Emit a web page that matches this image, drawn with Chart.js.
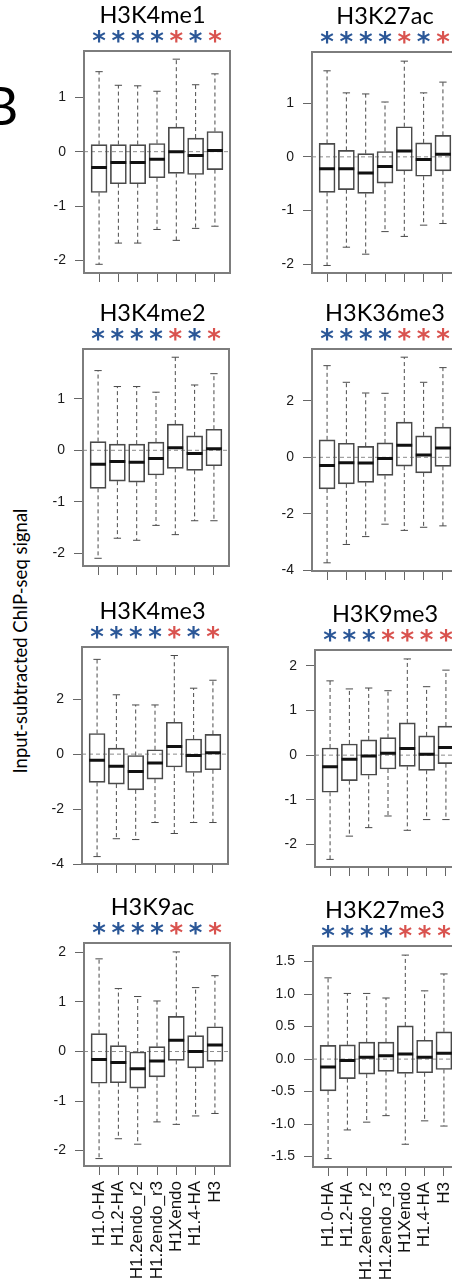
<!DOCTYPE html>
<html>
<head>
<meta charset="utf-8">
<title>Input-subtracted ChIP-seq signal</title>
<script src="https://cdn.jsdelivr.net/npm/chart.js@4.4.1/dist/chart.umd.min.js"></script>
<style>
    html, body { margin: 0; padding: 0; background: #fff; }
    body { position: relative; width: 452px; height: 1286px; overflow: hidden; }
    #panelLetter { position: absolute; left: -16px; top: 78px; font: 53px Lato; line-height: 53px; color: #000; }
    #yLabel {
        position: absolute; left: 20px; top: 641px;
        transform: translate(-50%, -50%) rotate(-90deg);
        font: 18.5px Lato; white-space: nowrap; color: #000;
    }
</style>
</head>
<body>
<div id="panelLetter">B</div>
<div id="yLabel">Input-subtracted ChIP-seq signal</div>

<script>
// ==============================================================================
// 1. DATA (one row per histone mark, one value per H1 variant)
// ==============================================================================
const groups = ['H1.0-HA', 'H1.2-HA', 'H1.2endo_r2', 'H1.2endo_r3', 'H1Xendo', 'H1.4-HA', 'H3'];
const marks = ['H3K4me1', 'H3K27ac', 'H3K4me2', 'H3K36me3', 'H3K4me3', 'H3K9me3', 'H3K9ac', 'H3K27me3'];

const whiskerLow = [
    [-2.07, -1.68, -1.68, -1.43, -1.63, -1.41, -1.37],
    [-2.02, -1.68, -1.81, -1.39, -1.48, -1.27, -1.24],
    [-2.10, -1.71, -1.75, -1.46, -1.64, -1.37, -1.37],
    [-3.74, -3.09, -2.81, -2.37, -2.59, -2.48, -2.43],
    [-3.73, -3.08, -3.11, -2.49, -2.89, -2.49, -2.49],
    [-2.33, -1.81, -1.62, -1.36, -1.68, -1.44, -1.44],
    [-2.16, -1.76, -1.87, -1.42, -1.47, -1.30, -1.25],
    [-1.53, -1.09, -0.97, -0.87, -1.31, -0.95, -1.03]
];
const lowerQuartile = [
    [-0.75, -0.59, -0.59, -0.48, -0.40, -0.42, -0.33],
    [-0.66, -0.61, -0.68, -0.49, -0.26, -0.36, -0.26],
    [-0.74, -0.60, -0.62, -0.48, -0.35, -0.39, -0.30],
    [-1.12, -0.94, -0.89, -0.64, -0.31, -0.55, -0.32],
    [-1.03, -1.09, -1.30, -0.91, -0.47, -0.67, -0.57],
    [-0.83, -0.57, -0.45, -0.31, -0.25, -0.34, -0.19],
    [-0.64, -0.63, -0.74, -0.51, -0.18, -0.33, -0.20],
    [-0.49, -0.30, -0.23, -0.19, -0.22, -0.21, -0.16]
];
const medians = [
    [-0.29, -0.20, -0.20, -0.14, 0.00, -0.07, 0.02],
    [-0.22, -0.22, -0.30, -0.18, 0.11, -0.05, 0.05],
    [-0.27, -0.22, -0.23, -0.16, 0.05, -0.06, 0.03],
    [-0.29, -0.19, -0.20, -0.04, 0.43, 0.08, 0.33],
    [-0.22, -0.44, -0.63, -0.32, 0.28, -0.05, 0.05],
    [-0.26, -0.09, -0.02, 0.04, 0.15, 0.02, 0.17],
    [-0.16, -0.22, -0.35, -0.19, 0.23, 0.00, 0.13],
    [-0.12, -0.02, 0.03, 0.05, 0.08, 0.03, 0.09]
];
const upperQuartile = [
    [0.13, 0.13, 0.13, 0.15, 0.45, 0.25, 0.37],
    [0.25, 0.12, 0.06, 0.10, 0.56, 0.26, 0.40],
    [0.17, 0.12, 0.12, 0.16, 0.51, 0.28, 0.41],
    [0.62, 0.50, 0.39, 0.51, 1.25, 0.76, 1.07],
    [0.75, 0.22, -0.05, 0.16, 1.16, 0.55, 0.72],
    [0.16, 0.25, 0.34, 0.39, 0.72, 0.43, 0.65],
    [0.36, 0.12, -0.01, 0.10, 0.71, 0.32, 0.50],
    [0.21, 0.22, 0.26, 0.26, 0.51, 0.29, 0.42]
];
const whiskerHigh = [
    [1.47, 1.22, 1.21, 1.11, 1.70, 1.23, 1.43],
    [1.60, 1.19, 1.17, 1.02, 1.78, 1.19, 1.39],
    [1.55, 1.24, 1.24, 1.13, 1.81, 1.27, 1.49],
    [3.25, 2.66, 2.28, 2.27, 3.55, 2.66, 3.18],
    [3.45, 2.16, 1.79, 1.79, 3.59, 2.40, 2.69],
    [1.66, 1.48, 1.50, 1.44, 2.15, 1.53, 1.90],
    [1.87, 1.27, 1.11, 1.02, 2.01, 1.29, 1.53],
    [1.25, 1.01, 1.01, 0.94, 1.60, 1.05, 1.31]
];
// b = blue star, r = red star
const significance = ['bbbbrbr', 'bbbbrbr', 'bbbbrbr', 'bbbbrrr', 'bbbbrbr', 'bbbrrrr', 'bbbbrbr', 'bbbbrrr'];

const yTicks = [
    [-2, -1, 0, 1],
    [-2, -1, 0, 1],
    [-2, -1, 0, 1],
    [-4, -2, 0, 2],
    [-4, -2, 0, 2],
    [-2, -1, 0, 1, 2],
    [-2, -1, 0, 1, 2],
    [-1.5, -1.0, -0.5, 0.0, 0.5, 1.0, 1.5]
];
const yLimits = [
    [-2.23, 1.85], [-2.16, 1.95], [-2.25, 1.97], [-4.03, 3.84],
    [-4.00, 3.90], [-2.50, 2.35], [-2.31, 2.19], [-1.66, 1.74]
];

// ==============================================================================
// 2. LAYOUT (frame left / top / bottom of each panel on the page)
// ==============================================================================
const frames = [
    [84, 51, 273], [312, 52, 273],
    [83, 349, 566], [312, 349, 571],
    [82, 647, 864], [315, 650, 867],
    [84, 943, 1166], [313, 946, 1167]
];
const FRAME_W = 146;
const X_MIN = 0.22, X_MAX = 7.78;
const BLUE = '#2b5797', RED = '#d9534f';

const framePlugin = {
    id: 'frame',
    afterDraw(chart) {
        const { ctx, chartArea: a } = chart;
        ctx.save();
        ctx.strokeStyle = '#7d7d7d';
        ctx.lineWidth = 2;
        ctx.strokeRect(a.left, a.top, a.right - a.left, a.bottom - a.top);
        ctx.restore();
    }
};

// ==============================================================================
// 3. ONE BOXPLOT PANEL
// ==============================================================================
function drawPanel(i) {
    const [fl, ft, fb] = frames[i];
    const rightCol = fl > 200;
    const left0 = rightCol ? 230 : 0;
    const cw = rightCol ? 310 : 305;          // canvas centred on the title
    const bottomRow = i >= 6;
    const axisH = bottomRow ? 125 : 12;
    const h = fb - ft + 50 + axisH;
    const yw = fl - left0;
    const rw = cw - yw - FRAME_W;

    const canvas = document.createElement('canvas');
    canvas.width = cw;
    canvas.height = h;
    canvas.style.cssText = `position:absolute;left:${left0}px;top:${ft - 50}px;width:${cw}px;height:${h}px;`;
    document.body.appendChild(canvas);

    const boxes = [], medianLine = [], whiskers = [], staples = [];
    groups.forEach((g, k) => {
        const x = k + 1;
        boxes.push({ x: x, y: [lowerQuartile[i][k], upperQuartile[i][k]] });
        medianLine.push({ x: x - 0.41, y: medians[i][k] }, { x: x + 0.41, y: medians[i][k] }, { x: x, y: null });
        whiskers.push(
            { x: x, y: upperQuartile[i][k] }, { x: x, y: whiskerHigh[i][k] }, { x: x, y: null },
            { x: x, y: lowerQuartile[i][k] }, { x: x, y: whiskerLow[i][k] }, { x: x, y: null }
        );
        staples.push(
            { x: x - 0.19, y: whiskerHigh[i][k] }, { x: x + 0.19, y: whiskerHigh[i][k] }, { x: x, y: null },
            { x: x - 0.19, y: whiskerLow[i][k] }, { x: x + 0.19, y: whiskerLow[i][k] }, { x: x, y: null }
        );
    });
    const groupTicks = s => { s.ticks = groups.map((g, k) => ({ value: k + 1 })); };

    new Chart(canvas, {
        type: 'bar',
        data: {
            datasets: [
                { type: 'line', data: [{ x: X_MIN, y: 0 }, { x: X_MAX, y: 0 }], borderColor: '#8c8c8c', borderWidth: 1, borderDash: [4, 3], pointRadius: 0, order: 5 },
                { type: 'bar', data: boxes, backgroundColor: 'rgba(0,0,0,0)', borderColor: '#4a4a4a', borderWidth: 1, borderSkipped: false, barThickness: 16, order: 4 },
                { type: 'line', data: whiskers, borderColor: '#4a4a4a', borderWidth: 1, borderDash: [4, 3], pointRadius: 0, order: 3 },
                { type: 'line', data: staples, borderColor: '#4a4a4a', borderWidth: 1, pointRadius: 0, order: 2 },
                { type: 'line', data: medianLine, borderColor: '#111', borderWidth: 3, pointRadius: 0, order: 1 }
            ]
        },
        options: {
            responsive: false,
            animation: false,
            devicePixelRatio: 1,
            layout: { padding: 0 },
            plugins: {
                legend: { display: false },
                tooltip: { enabled: false },
                title: {
                    display: true,
                    text: marks[i],
                    color: '#000',
                    font: { family: 'Lato', size: 23.5, weight: 'normal', lineHeight: 1.2 },
                    padding: { top: 0.5, bottom: 0 }
                }
            },
            scales: {
                x: {
                    type: 'linear', position: 'bottom', min: X_MIN, max: X_MAX, offset: false,
                    afterBuildTicks: groupTicks,
                    afterFit: s => { s.height = axisH; },
                    grid: { offset: false, drawOnChartArea: false, tickLength: 9, tickColor: '#666' },
                    border: { display: false },
                    ticks: {
                        autoSkip: false, minRotation: 90, maxRotation: 90, padding: 6, color: '#111',
                        font: { family: 'Liberation Sans', size: 17, lineHeight: 1 },
                        callback: (v, k) => bottomRow ? groups[k] : ''
                    }
                },
                x2: {
                    type: 'linear', position: 'top', min: X_MIN, max: X_MAX, offset: false,
                    afterBuildTicks: groupTicks,
                    afterFit: s => { s.height = 21.3; },
                    grid: { display: false, drawTicks: false, offset: false },
                    border: { display: false },
                    ticks: {
                        autoSkip: false, maxRotation: 0, padding: 1.4,
                        font: { family: 'DejaVu Sans', size: 26, weight: 'bold', lineHeight: 0.5 },
                        color: c => significance[i][c.index] === 'r' ? RED : BLUE,
                        callback: () => '*'
                    }
                },
                y: {
                    type: 'linear', position: 'left', min: yLimits[i][0], max: yLimits[i][1],
                    afterBuildTicks: s => { s.ticks = yTicks[i].map(v => ({ value: v })); },
                    // fixed width, and no extra margin for the end labels
                    afterFit: s => { s.width = yw; s.paddingTop = 0; s.paddingBottom = 0; },
                    grid: { drawOnChartArea: false, tickLength: 9, tickColor: '#666' },
                    border: { display: false },
                    ticks: {
                        padding: 9, color: '#1a1a1a',
                        font: { family: 'Liberation Sans', size: 14 },
                        callback: v => i === 7 ? v.toFixed(1) : String(v)
                    }
                },
                y2: {
                    type: 'linear', position: 'right',
                    afterFit: s => { s.width = rw; },
                    grid: { display: false, drawTicks: false },
                    border: { display: false },
                    ticks: { display: false }
                }
            }
        },
        plugins: [framePlugin]
    });
}

marks.forEach((m, i) => drawPanel(i));
</script>
</body>
</html>
